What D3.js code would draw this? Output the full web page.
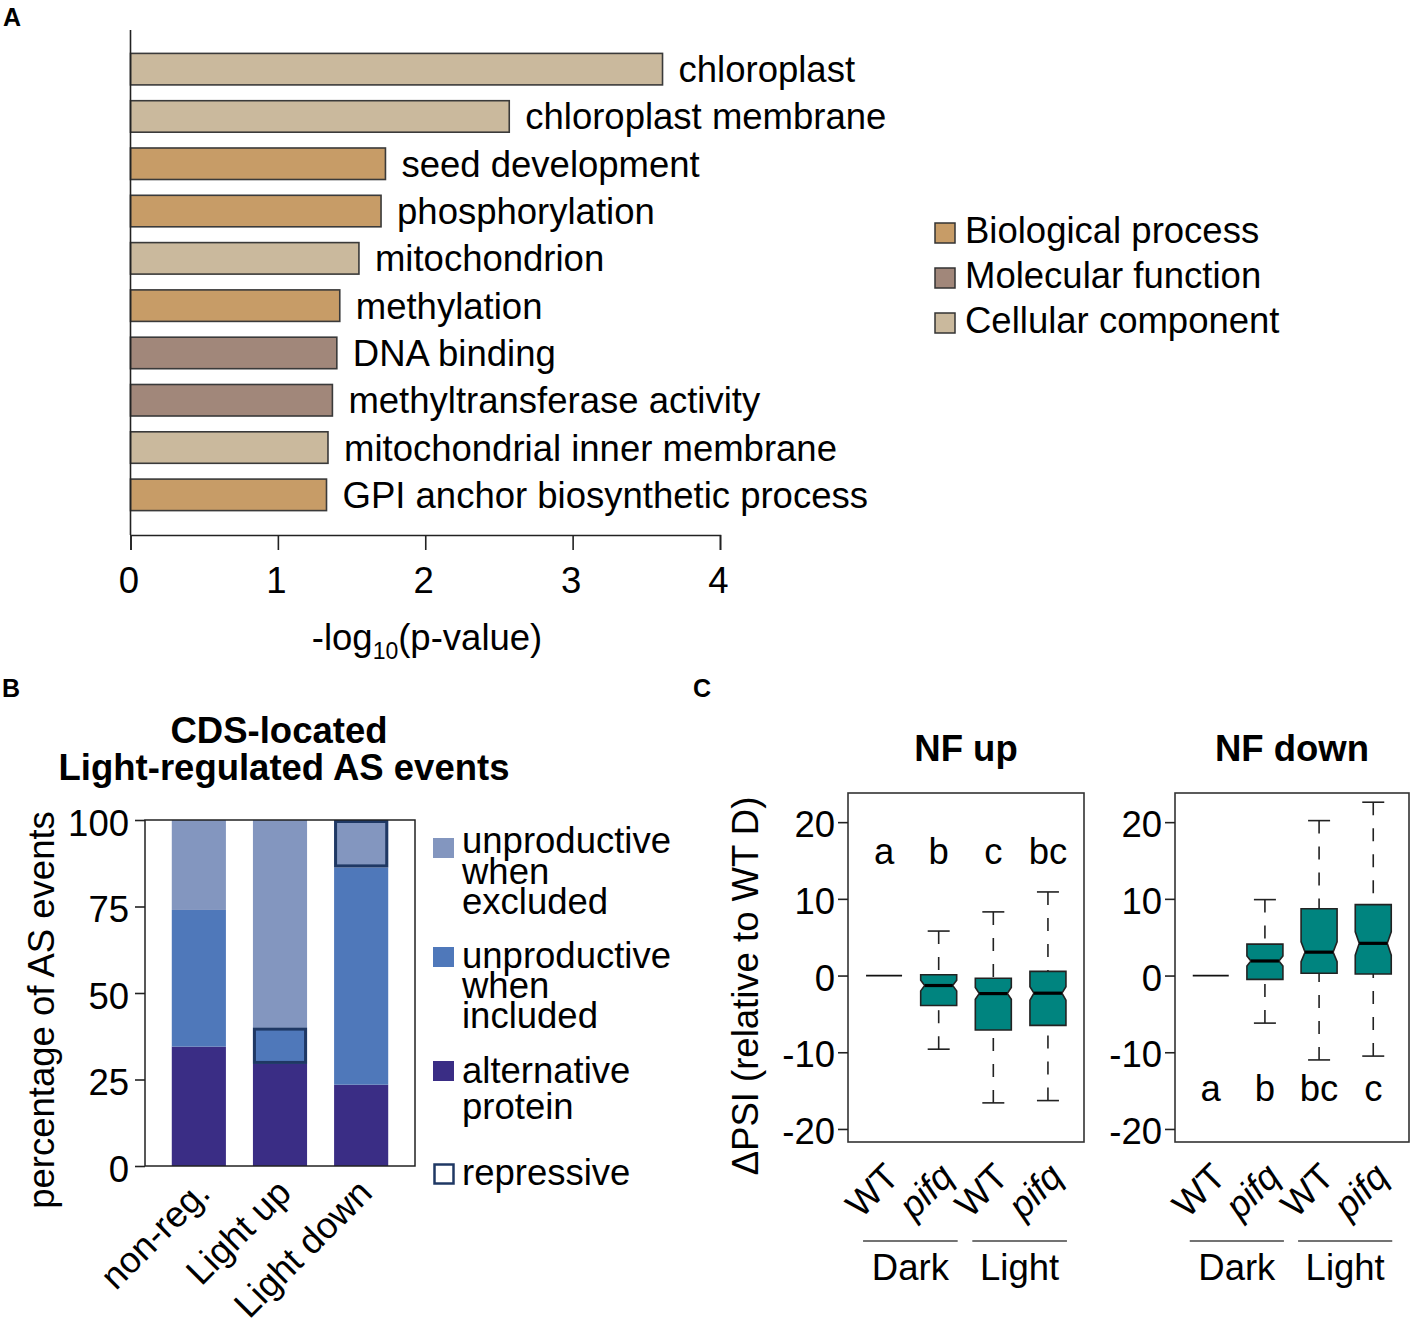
<!DOCTYPE html>
<html><head><meta charset="utf-8">
<script src="https://cdn.jsdelivr.net/npm/d3@7"></script>
<style>
body{margin:0;background:#fff}
text{font-family:"Liberation Sans",Arial,Helvetica,sans-serif;fill:#000}
</style>
</head><body>
<svg id="c" width="1411" height="1327"></svg>
<script>
// ---------------- DATA ----------------
// Panel A: GO enrichment
const goTerms = ["chloroplast","chloroplast membrane","seed development","phosphorylation","mitochondrion","methylation","DNA binding","methyltransferase activity","mitochondrial inner membrane","GPI anchor biosynthetic process"];
const goValues = [3.61, 2.57, 1.73, 1.70, 1.55, 1.42, 1.40, 1.37, 1.34, 1.33];
const goCategory = ["Cellular component","Cellular component","Biological process","Biological process","Cellular component","Biological process","Molecular function","Molecular function","Cellular component","Biological process"];
const goCategoryNames = ["Biological process","Molecular function","Cellular component"];
const goTicks = [0,1,2,3,4];

// Panel B: stacked percentages
const asCategories = ["non-reg.","Light up","Light down"];
const altProtein = [34.5, 29.5, 23.5];
const unprodIncluded = [39.5, 10.5, 62.8];
const unprodExcluded = [26.0, 60.0, 13.7];
const repressiveSegment = [null, "included", "excluded"];
const asTicks = [0,25,50,75,100];
const asLegend = [["unproductive","when","excluded"],["unproductive","when","included"],["alternative","protein"],["repressive"]];

// Panel C: notched boxplots (ΔPSI)
const boxGenotypes = ["WT","pifq","WT","pifq"];
const boxConditions = ["Dark","Light"];
const psiTicks = [-20,-10,0,10,20];
// NF up
const upWhiskerLow  = [0, -9.6, -16.6, -16.3];
const upQ1          = [0, -3.9,  -7.1,  -6.5];
const upNotchLow    = [0, -2.0,  -3.1,  -3.2];
const upMedian      = [0, -1.3,  -2.35, -2.3];
const upNotchHigh   = [0, -0.6,  -1.55, -1.45];
const upQ3          = [0,  0.1,  -0.35,  0.55];
const upWhiskerHigh = [0,  5.8,   8.3,  10.9];
const upLetters = ["a","b","c","bc"];
// NF down
const downWhiskerLow  = [0, -6.2, -11.0, -10.5];
const downQ1          = [0, -0.5,   0.3,   0.2];
const downNotchLow    = [0,  1.25,  1.8,   2.65];
const downMedian      = [0,  1.9,   3.05,  4.2];
const downNotchHigh   = [0,  2.55,  4.4,   5.7];
const downQ3          = [0,  4.1,   8.7,   9.25];
const downWhiskerHigh = [0,  9.9,  20.2,  22.6];
const downLetters = ["a","b","bc","c"];

// ---------------- HELPERS ----------------
const FS = 36.5;
const svg = d3.select('#c');
svg.append('rect').attr('width',1411).attr('height',1327).attr('fill','#fff');

function txt(parent, x, y, s, o={}) {
  const g = parent.append('g').attr('transform', `translate(${x},${y})` + (o.rot ? ` rotate(${o.rot})` : ''));
  const t = g.append('text')
    .attr('text-anchor', o.anchor || 'start')
    .style('font-size', (o.size || FS) + 'px')
    .style('font-weight', o.weight || 'normal')
    .style('font-style', o.italic ? 'italic' : 'normal');
  if (s !== null) t.text(s);
  return t;
}
const hyph = d => (d < 0 ? '-' + Math.abs(d) : String(d));
function styleAxis(g, size) {
  g.selectAll('line').attr('stroke','#222').attr('stroke-width',1.6);
  g.selectAll('path.domain').attr('stroke','#222').attr('stroke-width',1.6);
  g.selectAll('text').style('font-size', (size||FS)+'px').style('font-family','"Liberation Sans",Arial,sans-serif')
    .attr('fill','#000');
}

// ---------------- PANEL A ----------------
const gA = svg.append('g');
txt(svg, 3, 26, 'A', {weight:'bold', size:25});
const xA = d3.scaleLinear().domain([0,4]).range([130.5, 720]);
const yA = d3.scaleBand().domain(goTerms).range([45.5, 518.5]).paddingInner(0.334).paddingOuter(0.167);
const colorA = d3.scaleOrdinal().domain(goCategoryNames).range(["#C79C67","#A1877A","#CAB99D"]);
const rowsA = goTerms.map((t,i)=>({term:t, value:goValues[i], cat:goCategory[i]}));

gA.selectAll('rect.bar').data(rowsA).join('rect').attr('class','bar')
  .attr('x', xA(0)).attr('y', d=>yA(d.term))
  .attr('width', d=>xA(d.value)-xA(0)).attr('height', yA.bandwidth())
  .attr('fill', d=>colorA(d.cat)).attr('stroke','#3a3a3a').attr('stroke-width',1.6);
rowsA.forEach(d=>{
  txt(gA, xA(d.value)+16, yA(d.term)+yA.bandwidth()/2+13, d.term);
});
gA.append('line').attr('x1',xA(0)).attr('x2',xA(0)).attr('y1',30).attr('y2',535)
  .attr('stroke','#222').attr('stroke-width',1.6);
const axA = gA.append('g').attr('transform','translate(0,535)')
  .call(d3.axisBottom(xA).tickValues(goTicks).tickSize(15).tickPadding(17).tickFormat(d3.format('d')));
styleAxis(axA);
axA.selectAll('text').attr('dx', -2);
{
  const t = txt(gA, 427, 650, null, {anchor:'middle'});
  t.append('tspan').text('-log');
  t.append('tspan').attr('dy',9).style('font-size','23px').text('10');
  t.append('tspan').attr('dy',-9).text('(p-value)');
}
goCategoryNames.forEach((c,i)=>{
  gA.append('rect').attr('x',935).attr('y',223+45*i).attr('width',20).attr('height',20)
    .attr('fill',colorA(c)).attr('stroke','#333').attr('stroke-width',1.5);
  txt(gA, 965, 243+45*i, c);
});

// ---------------- PANEL B ----------------
const gB = svg.append('g');
txt(svg, 2, 697, 'B', {weight:'bold', size:25});
txt(gB, 279, 743, 'CDS-located', {anchor:'middle', weight:'bold'});
txt(gB, 284, 780, 'Light-regulated AS events', {anchor:'middle', weight:'bold'});
const xB = d3.scaleBand().domain(asCategories).range([145,415]).paddingInner(0.333).paddingOuter(0.33);
const yB = d3.scaleLinear().domain([0,100]).range([1166, 820]);
const tableB = asCategories.map((c,i)=>({cat:c, alt:altProtein[i], included:unprodIncluded[i], excluded:unprodExcluded[i], rep:repressiveSegment[i]}));
const keysB = ['alt','included','excluded'];
const colorB = {alt:'#3A2D85', included:'#4F78BA', excluded:'#8396BF'};
const stackB = d3.stack().keys(keysB)(tableB);
stackB.forEach(layer=>{
  gB.selectAll(null).data(layer).join('rect')
    .attr('x', d=>xB(d.data.cat)).attr('width', xB.bandwidth())
    .attr('y', d=>yB(d[1])).attr('height', d=>yB(d[0])-yB(d[1]))
    .attr('fill', colorB[layer.key]);
});
stackB.forEach(layer=>{
  layer.forEach(d=>{
    if (d.data.rep === layer.key) {
      gB.append('rect').attr('x', xB(d.data.cat)+1.5).attr('width', xB.bandwidth()-3)
        .attr('y', yB(d[1])+1.5).attr('height', yB(d[0])-yB(d[1])-3)
        .attr('fill','none').attr('stroke','#1F3864').attr('stroke-width',3);
    }
  });
});
gB.append('rect').attr('x',145).attr('y',820).attr('width',270).attr('height',346)
  .attr('fill','none').attr('stroke','#222').attr('stroke-width',1.5);
const axB = gB.append('g').attr('transform','translate(145,0)')
  .call(d3.axisLeft(yB).tickValues(asTicks).tickSize(10).tickPadding(6));
axB.select('path.domain').remove();
styleAxis(axB);
axB.selectAll('text').attr('dy','0.42em');
txt(gB, 54, 1010, 'percentage of AS events', {rot:-90, anchor:'middle'});
asCategories.forEach(c=>{
  txt(gB, xB(c)+xB.bandwidth()/2+13, 1195, c, {rot:-45, anchor:'end'});
});
// legend B
const legB = [
  {key:'excluded', top:838, lines:asLegend[0], base:853, step:30.5},
  {key:'included', top:947, lines:asLegend[1], base:968, step:30},
  {key:'alt', top:1061, lines:asLegend[2], base:1083, step:36},
  {key:'rep', top:1163, lines:asLegend[3], base:1185, step:30}
];
legB.forEach(l=>{
  if (l.key==='rep') {
    gB.append('rect').attr('x',434.5).attr('y',l.top+1.5).attr('width',19).attr('height',19)
      .attr('fill','#fff').attr('stroke','#1F3864').attr('stroke-width',2.5);
  } else {
    gB.append('rect').attr('x',433).attr('y',l.top).attr('width',21).attr('height',20).attr('fill',colorB[l.key]);
  }
  l.lines.forEach((s,j)=> txt(gB, 462, l.base + j*l.step, s));
});

// ---------------- PANEL C ----------------
const gC = svg.append('g');
txt(svg, 693, 697, 'C', {weight:'bold', size:25});
const yC = d3.scaleLinear().domain([-21.7, 23.8]).range([1142, 793]);
txt(gC, 758, 986, 'ΔPSI (relative to WT D)', {rot:-90, anchor:'middle'});

function panelC(left, right, title, stats, letters, letterVal) {
  const g = gC.append('g');
  const x = d3.scaleLinear().domain([0.34, 4.66]).range([left, right]);
  g.append('rect').attr('x',left).attr('y',yC(23.8)).attr('width',right-left).attr('height',yC(-21.7)-yC(23.8))
    .attr('fill','none').attr('stroke','#333').attr('stroke-width',1.6);
  const ax = g.append('g').attr('transform',`translate(${left},0)`)
    .call(d3.axisLeft(yC).tickValues(psiTicks).tickSize(10).tickPadding(3).tickFormat(hyph));
  ax.select('path.domain').remove();
  styleAxis(ax);
  ax.selectAll('text').attr('dy','0.4em');
  txt(g, (left+right)/2, 761, title, {anchor:'middle', weight:'bold'});
  const hw = 18, inset = 4, cap = 11;
  boxGenotypes.forEach((gt,i)=>{
    const cx = x(i+1);
    const s = {wl:stats.wl[i], q1:stats.q1[i], nl:stats.nl[i], md:stats.md[i], nh:stats.nh[i], q3:stats.q3[i], wh:stats.wh[i]};
    if (s.q3 === s.q1) {
      g.append('line').attr('x1',cx-hw).attr('x2',cx+hw).attr('y1',yC(s.md)).attr('y2',yC(s.md))
        .attr('stroke','#111').attr('stroke-width',1.8);
    } else {
      [[s.wh, s.q3],[s.wl, s.q1]].forEach(([w,b])=>{
        g.append('line').attr('x1',cx).attr('x2',cx).attr('y1',yC(w)).attr('y2',yC(b))
          .attr('stroke','#222').attr('stroke-width',1.6).attr('stroke-dasharray','13,13');
        g.append('line').attr('x1',cx-cap).attr('x2',cx+cap).attr('y1',yC(w)).attr('y2',yC(w))
          .attr('stroke','#222').attr('stroke-width',1.6);
      });
      const L = cx-hw, R = cx+hw;
      const pts = [[L,yC(s.q3)],[R,yC(s.q3)],[R,yC(s.nh)],[R-inset,yC(s.md)],[R,yC(s.nl)],[R,yC(s.q1)],
                   [L,yC(s.q1)],[L,yC(s.nl)],[L+inset,yC(s.md)],[L,yC(s.nh)]];
      g.append('path').attr('d', d3.line()(pts)+'Z').attr('fill','#00847F').attr('stroke','#222').attr('stroke-width',1.6);
      g.append('line').attr('x1',L+inset).attr('x2',R-inset).attr('y1',yC(s.md)).attr('y2',yC(s.md))
        .attr('stroke','#000').attr('stroke-width',3.2);
    }
    txt(g, cx, yC(letterVal), letters[i], {anchor:'middle'});
    txt(g, cx+17, 1179, gt, {rot:-45, anchor:'end', italic: gt==='pifq'});
  });
  boxConditions.forEach((c,k)=>{
    const a = x(2*k+1)-21, b = x(2*k+2)+19;
    g.append('line').attr('x1',a).attr('x2',b).attr('y1',1241).attr('y2',1241).attr('stroke','#444').attr('stroke-width',1.6);
    txt(g, (a+b)/2, 1280, c, {anchor:'middle'});
  });
}
panelC(848, 1084, 'NF up',
  {wl:upWhiskerLow, q1:upQ1, nl:upNotchLow, md:upMedian, nh:upNotchHigh, q3:upQ3, wh:upWhiskerHigh}, upLetters, 14.6);
panelC(1175, 1409, 'NF down',
  {wl:downWhiskerLow, q1:downQ1, nl:downNotchLow, md:downMedian, nh:downNotchHigh, q3:downQ3, wh:downWhiskerHigh}, downLetters, -16.4);
</script>
</body></html>
